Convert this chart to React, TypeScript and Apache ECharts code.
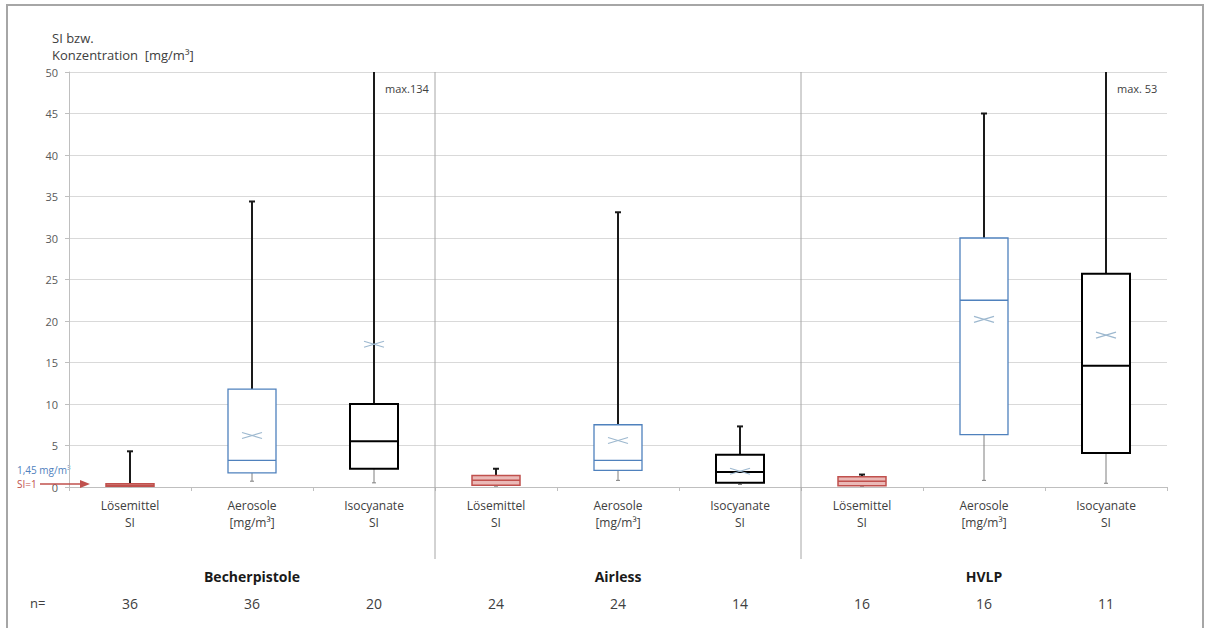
import React, { useEffect, useRef } from 'react';
import * as echarts from 'echarts';

const categories = [
  'Lösemittel\nSI', 'Aerosole\n[mg/m³]', 'Isocyanate\nSI',
  'Lösemittel\nSI', 'Aerosole\n[mg/m³]', 'Isocyanate\nSI',
  'Lösemittel\nSI', 'Aerosole\n[mg/m³]', 'Isocyanate\nSI',
];
const groups = ['Becherpistole', 'Airless', 'HVLP'];
const nValues = [36, 36, 20, 24, 24, 14, 16, 16, 11];
const kinds = ['solvent', 'aerosol', 'iso', 'solvent', 'aerosol', 'iso', 'solvent', 'aerosol', 'iso'];

const minValues = [0.05, 0.7, 0.5, 0.1, 0.8, 0.3, 0.1, 0.8, 0.45];
const q1Values = [0.1, 1.7, 2.2, 0.2, 2.0, 0.5, 0.15, 6.3, 4.1];
const medianValues = [0.2, 3.2, 5.5, 0.8, 3.2, 1.8, 0.7, 22.5, 14.6];
const q3Values = [0.4, 11.8, 10.0, 1.4, 7.5, 3.9, 1.25, 30.0, 25.7];
const maxValues = [4.3, 34.4, 134, 2.2, 33.1, 7.3, 1.5, 45.0, 53];
const meanValues = [0.25, 6.2, 17.2, 0.9, 5.6, 1.9, 0.7, 20.2, 18.3];
const maxLabels = ['', '', 'max.134', '', '', '', '', '', 'max. 53'];

const yTicks = { min: 0, max: 50, interval: 5 };

const FONT = 'Open Sans';
const TEXT = '#404040';

const STYLES: Record<string, { stroke: string; fill: string; lw: number }> = {
  solvent: { stroke: '#c0504d', fill: '#eab9b7', lw: 1.5 },
  aerosol: { stroke: '#4f81bd', fill: '#ffffff', lw: 1.3 },
  iso: { stroke: '#000000', fill: '#ffffff', lw: 2 },
};

export default function App() {
  const ref = useRef<HTMLDivElement>(null);

  useEffect(() => {
    document.body.style.margin = '0';
    const chart = echarts.init(ref.current!, null, { renderer: 'svg' });

    const data = categories.map((_, i) => [
      i, minValues[i], q1Values[i], medianValues[i], q3Values[i], maxValues[i], meanValues[i],
    ]);

    const renderItem = (params: any, api: any) => {
      const i = params.dataIndex;
      const base = api.coord([i, 0]);
      const cx = base[0];
      const y0 = base[1];
      const band = api.size([1, 0])[0];
      const yv = (v: number) => api.coord([i, Math.min(v, yTicks.max)])[1];
      const st = STYLES[kinds[i]];
      const bw = 48;
      const yMin = yv(api.value(1));
      const yQ1 = yv(api.value(2));
      const yMed = yv(api.value(3));
      const yQ3 = yv(api.value(4));
      const rawMax = api.value(5);
      const yMax = yv(rawMax);
      const yMean = yv(api.value(6));
      const yTop = yv(yTicks.max);
      const children: any[] = [];

      // min whisker
      children.push({ type: 'line', shape: { x1: cx, y1: yQ1, x2: cx, y2: yMin }, style: { stroke: '#7f7f7f', lineWidth: 1 } });
      children.push({ type: 'line', shape: { x1: cx - 2, y1: yMin, x2: cx + 2, y2: yMin }, style: { stroke: '#7f7f7f', lineWidth: 1 } });
      // max whisker
      children.push({ type: 'line', shape: { x1: cx, y1: yQ3, x2: cx, y2: yMax }, style: { stroke: '#1a1a1a', lineWidth: 2 } });
      if (rawMax <= yTicks.max) {
        children.push({ type: 'line', shape: { x1: cx - 3, y1: yMax, x2: cx + 3, y2: yMax }, style: { stroke: '#1a1a1a', lineWidth: 2 } });
      }
      // box
      children.push({
        type: 'rect',
        shape: { x: cx - bw / 2, y: yQ3, width: bw, height: yQ1 - yQ3 },
        style: { fill: st.fill, stroke: st.stroke, lineWidth: st.lw },
      });
      // median
      children.push({ type: 'line', shape: { x1: cx - bw / 2, y1: yMed, x2: cx + bw / 2, y2: yMed }, style: { stroke: st.stroke, lineWidth: st.lw } });
      // mean marker
      if (kinds[i] !== 'solvent') {
        children.push({ type: 'line', shape: { x1: cx - 10, y1: yMean - 3, x2: cx + 10, y2: yMean + 3 }, style: { stroke: '#9db8cf', lineWidth: 1.2 } });
        children.push({ type: 'line', shape: { x1: cx - 10, y1: yMean + 3, x2: cx + 10, y2: yMean - 3 }, style: { stroke: '#9db8cf', lineWidth: 1.2 } });
      }
      // clipped max label
      if (maxLabels[i]) {
        children.push({
          type: 'text', x: cx + 11, y: yTop + 16,
          style: { text: maxLabels[i], fill: TEXT, fontSize: 11, fontFamily: FONT, align: 'left', verticalAlign: 'middle' },
        });
      }
      // group separator
      if (i % 3 === 2 && i < categories.length - 1) {
        children.push({ type: 'line', shape: { x1: cx + band / 2, y1: yTop, x2: cx + band / 2, y2: y0 + 72 }, style: { stroke: '#a6a6a6', lineWidth: 1 } });
      }
      // group label
      if (i % 3 === 1) {
        children.push({
          type: 'text', x: cx, y: y0 + 89,
          style: { text: groups[(i - 1) / 3], fill: '#1a1a1a', fontSize: 14, fontWeight: 'bold', fontFamily: FONT, align: 'center', verticalAlign: 'middle' },
        });
      }
      // n value
      children.push({
        type: 'text', x: cx, y: y0 + 116,
        style: { text: String(nValues[i]), fill: TEXT, fontSize: 14, fontFamily: FONT, align: 'center', verticalAlign: 'middle' },
      });
      return { type: 'group', children };
    };

    chart.setOption({
      animation: false,
      backgroundColor: '#ffffff',
      grid: { left: 69, right: 39, top: 72, bottom: 141, containLabel: false },
      xAxis: {
        type: 'category',
        data: categories,
        axisLine: { lineStyle: { color: '#bfbfbf' } },
        axisTick: { show: true, length: 4, lineStyle: { color: '#bfbfbf' } },
        axisLabel: { interval: 0, color: TEXT, fontSize: 12, fontFamily: FONT, lineHeight: 17, margin: 10 },
        splitLine: { show: false },
      },
      yAxis: {
        type: 'value',
        min: yTicks.min,
        max: yTicks.max,
        interval: yTicks.interval,
        axisLine: { show: true, lineStyle: { color: '#bfbfbf' } },
        axisTick: { show: true, length: 4, lineStyle: { color: '#bfbfbf' } },
        axisLabel: { color: '#595959', fontSize: 11, fontFamily: FONT, margin: 11 },
        splitLine: { lineStyle: { color: '#d9d9d9' } },
      },
      series: [
        {
          type: 'custom',
          renderItem,
          data,
          encode: { x: 0, y: [1, 2, 3, 4, 5] },
          clip: false,
          z: 5,
        },
      ],
      graphic: [
        { type: 'rect', shape: { x: 7, y: 5, width: 1196, height: 640 }, style: { fill: 'none', stroke: '#a6a6a6', lineWidth: 2 }, silent: true },
        { type: 'text', x: 52, y: 38, style: { text: 'SI bzw.', fill: TEXT, fontSize: 13, fontFamily: FONT, verticalAlign: 'middle' } },
        { type: 'text', x: 52, y: 55, style: { text: 'Konzentration  [mg/m³]', fill: TEXT, fontSize: 13, fontFamily: FONT, verticalAlign: 'middle' } },
        { type: 'text', x: 30, y: 603, style: { text: 'n=', fill: TEXT, fontSize: 13, fontFamily: FONT, verticalAlign: 'middle' } },
        { type: 'text', x: 17, y: 470, style: { text: '1,45 mg/m³', fill: '#4f81bd', fontSize: 10, fontFamily: FONT, verticalAlign: 'middle' } },
        { type: 'text', x: 17, y: 484, style: { text: 'SI=1', fill: '#c0504d', fontSize: 10, fontFamily: FONT, verticalAlign: 'middle' } },
        { type: 'line', shape: { x1: 40, y1: 484, x2: 84, y2: 484 }, style: { stroke: '#c0504d', lineWidth: 1.5 }, z: 100 },
        { type: 'polygon', shape: { points: [[90, 484], [80, 480], [80, 488]] }, style: { fill: '#c0504d' }, z: 100 },
      ],
    });

    return () => chart.dispose();
  }, []);

  return <div ref={ref} style={{ width: 1206, height: 628 }} />;
}
